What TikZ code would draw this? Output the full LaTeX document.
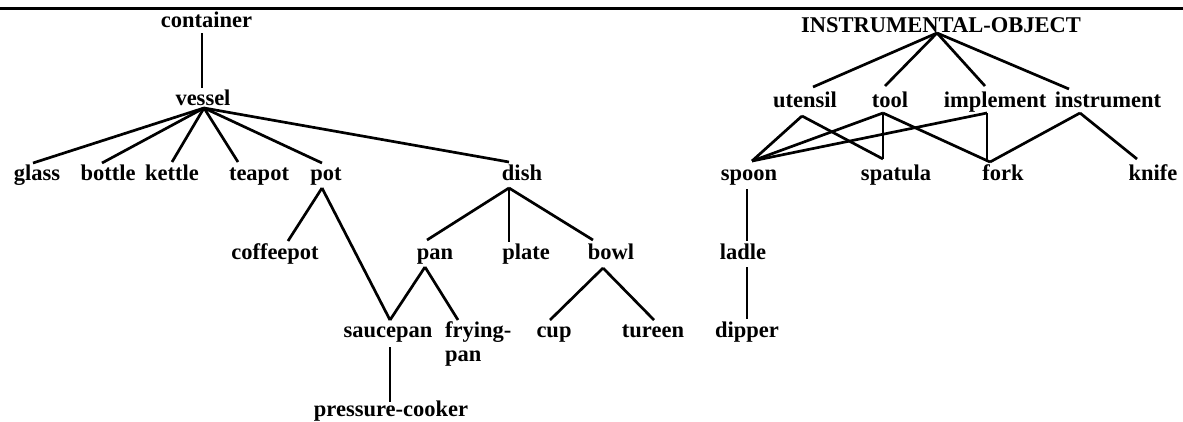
\documentclass[tikz,border=0pt]{standalone}
\usepackage{fontspec}
\setmainfont{Liberation Serif}
\begin{document}
\begin{tikzpicture}[x=1pt,y=-1pt,
  lbl/.style={anchor=base, inner sep=0pt, font=\bfseries\fontsize{22.5}{24}\selectfont},
  edge/.style={line width=2.7pt},
  rule/.style={line width=3pt}]
\useasboundingbox (0,0) rectangle (1183,421);
\draw[rule] (0,8) -- (1183,8);
% left tree
\node[lbl] (container) at (206.5,27) {container};
\node[lbl] (vessel) at (203,105) {vessel};
\node[lbl] (glass) at (37,180) {glass};
\node[lbl] (bottle) at (108,180) {bottle};
\node[lbl] (kettle) at (172,180) {kettle};
\node[lbl] (teapot) at (259,180) {teapot};
\node[lbl] (pot) at (326,180) {pot};
\node[lbl] (dish) at (522,180) {dish};
\node[lbl] (coffeepot) at (275,259) {coffeepot};
\node[lbl] (pan) at (435,259) {pan};
\node[lbl] (plate) at (526,259) {plate};
\node[lbl] (bowl) at (611,259) {bowl};
\node[lbl] (saucepan) at (388,337) {saucepan};
\node[lbl, anchor=base west] (fryingpan) at (445,337) {\begin{tabular}[t]{@{}l@{}}frying-\\pan\end{tabular}};
\node[lbl] (cup) at (554,337) {cup};
\node[lbl] (tureen) at (653,337) {tureen};
\node[lbl] (pressurecooker) at (391,416) {pressure-cooker};
% right tree
\node[lbl] (io) at (941,32) {INSTRUMENTAL-OBJECT};
\node[lbl] (utensil) at (805,107) {utensil};
\node[lbl] (tool) at (890,107) {tool};
\node[lbl] (implement) at (995,107) {implement};
\node[lbl] (instrument) at (1108,107) {instrument};
\node[lbl] (spoon) at (749,180) {spoon};
\node[lbl] (spatula) at (896,180) {spatula};
\node[lbl] (fork) at (1003,180) {fork};
\node[lbl] (knife) at (1153,180) {knife};
\node[lbl] (ladle) at (743,259) {ladle};
\node[lbl] (dipper) at (747,337) {dipper};
% left edges
\draw[edge] ([shift={(-4.5,6)}]container.base) -- ([shift={(-1,-17)}]vessel.base);
\draw[edge] ([shift={(1,3)}]vessel.base) -- ([shift={(-4,-17)}]glass.base);
\draw[edge] ([shift={(1,3)}]vessel.base) -- ([shift={(-6,-17)}]bottle.base);
\draw[edge] ([shift={(1,3)}]vessel.base) -- ([shift={(0,-18)}]kettle.base);
\draw[edge] ([shift={(1,3)}]vessel.base) -- ([shift={(-21,-18)}]teapot.base);
\draw[edge] ([shift={(1,3)}]vessel.base) -- ([shift={(-4,-17)}]pot.base);
\draw[edge] ([shift={(1,3)}]vessel.base) -- ([shift={(-13,-18)}]dish.base);
\draw[edge] ([shift={(-4,8)}]pot.base) -- ([shift={(13,-18)}]coffeepot.base);
\draw[edge] ([shift={(-4,8)}]pot.base) -- ([shift={(2,-17)}]saucepan.base);
\draw[edge] ([shift={(-13,8)}]dish.base) -- ([shift={(-8,-19)}]pan.base);
\draw[edge] ([shift={(-13,8)}]dish.base) -- ([shift={(-17,-17)}]plate.base);
\draw[edge] ([shift={(-13,8)}]dish.base) -- ([shift={(-18,-19)}]bowl.base);
\draw[edge] ([shift={(-10,8)}]pan.base) -- ([shift={(2,-17)}]saucepan.base);
\draw[edge] ([shift={(-10,8)}]pan.base) -- ([shift={(13,-17)}]fryingpan.base west);
\draw[edge] ([shift={(-8,9)}]bowl.base) -- ([shift={(-4,-17)}]cup.base);
\draw[edge] ([shift={(-8,9)}]bowl.base) -- ([shift={(1,-17)}]tureen.base);
\draw[edge] ([shift={(2,10)}]saucepan.base) -- ([shift={(-1,-14)}]pressurecooker.base);
% right edges
\draw[edge] ([shift={(-4,1)}]io.base) -- ([shift={(8,-20)}]utensil.base);
\draw[edge] ([shift={(-4,1)}]io.base) -- ([shift={(-5,-21)}]tool.base);
\draw[edge] ([shift={(-4,1)}]io.base) -- ([shift={(-10,-21)}]implement.base);
\draw[edge] ([shift={(-4,1)}]io.base) -- ([shift={(-39,-18)}]instrument.base);
\draw[edge] ([shift={(-3,9)}]utensil.base) -- ([shift={(3,-19)}]spoon.base);
\draw[edge] ([shift={(-3,9)}]utensil.base) -- ([shift={(-13,-21)}]spatula.base);
\draw[edge] ([shift={(-7,6)}]tool.base) -- ([shift={(3,-19)}]spoon.base);
\draw[edge] ([shift={(-7,6)}]tool.base) -- ([shift={(-13,-21)}]spatula.base);
\draw[edge] ([shift={(-7,6)}]tool.base) -- ([shift={(-13,-18)}]fork.base);
\draw[edge] ([shift={(-8,6)}]implement.base) -- ([shift={(3,-19)}]spoon.base);
\draw[edge] ([shift={(-8,6)}]implement.base) -- ([shift={(-16,-18)}]fork.base);
\draw[edge] ([shift={(-28,6)}]instrument.base) -- ([shift={(-13,-18)}]fork.base);
\draw[edge] ([shift={(-28,6)}]instrument.base) -- ([shift={(-16,-21)}]knife.base);
\draw[edge] ([shift={(-2,9)}]spoon.base) -- ([shift={(4,-18)}]ladle.base);
\draw[edge] ([shift={(4,8)}]ladle.base) -- ([shift={(0,-18)}]dipper.base);
\end{tikzpicture}
\end{document}
